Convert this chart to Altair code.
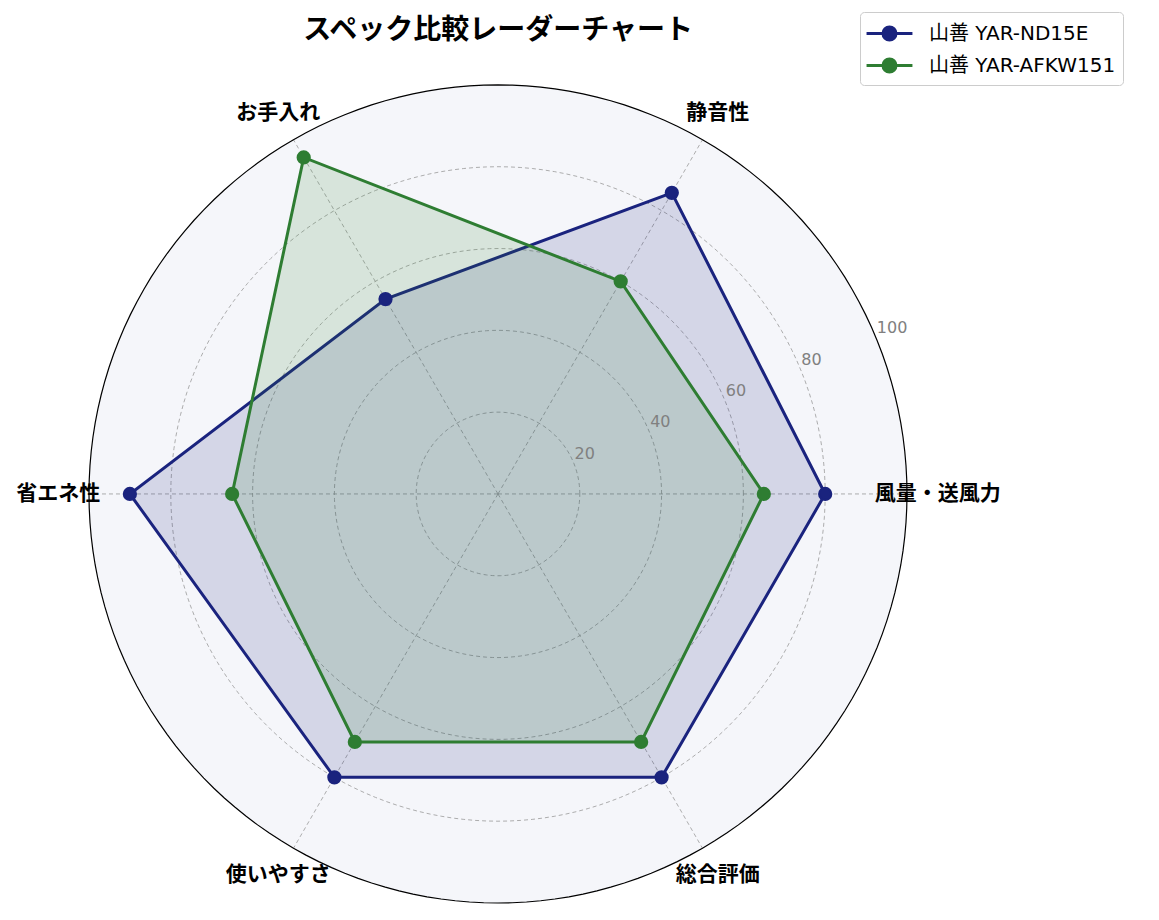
import altair as alt
import pandas as pd
import numpy as np

categories = ["風量・送風力", "静音性", "お手入れ", "省エネ性", "使いやすさ", "総合評価"]
series_names = ["山善 YAR-ND15E", "山善 YAR-AFKW151"]
series_values = [
    [80, 85, 55, 90, 80, 80],
    [65, 60, 95, 65, 70, 70],
]
colors = ["#1a237e", "#2e7d32"]
grid_levels = [20, 40, 60, 80, 100]
tick_labels = ["20", "40", "60", "80", "100"]
title_text = "スペック比較レーダーチャート"

FONT = "Noto Sans CJK JP"
LATIN = "DejaVu Sans, Noto Sans CJK JP"
W, H = 1143, 904
xdom = [-119.8, 159.66]
ydom = [-102.2, 118.8]

rows = []
for s, vals in zip(series_names, series_values):
    for i, (c, v) in enumerate(zip(categories, vals)):
        rows.append({"series": s, "cat": c, "idx": i, "value": v})
df = pd.DataFrame(rows)

cat_df = pd.DataFrame({"cat": categories, "idx": list(range(len(categories)))})

circ_rows = []
for lv in grid_levels:
    for a in range(0, 360, 2):
        circ_rows.append({"level": lv, "a": a})
circ_df = pd.DataFrame(circ_rows)

tick_df = pd.DataFrame({"level": grid_levels, "label": tick_labels})

xs = alt.Scale(domain=xdom, nice=False, zero=False)
ys = alt.Scale(domain=ydom, nice=False, zero=False)
X = lambda f: alt.X(f, type="quantitative", scale=xs, axis=None)
Y = lambda f: alt.Y(f, type="quantitative", scale=ys, axis=None)

cscale = alt.Scale(domain=series_names, range=colors)
sym = ("M-1.15,0L2.38,0"
       "M0.115,0A0.5,0.5,0,1,1,1.115,0A0.5,0.5,0,1,1,0.115,0Z")
leg = alt.Legend(
    title=None, orient="none", legendX=852, legendY=4,
    symbolType=sym, symbolSize=676, symbolStrokeWidth=3,
    labelFont=LATIN, labelFontSize=20, labelColor="#000", labelLimit=400,
    padding=7, strokeColor="#cccccc", cornerRadius=4, fillColor="white",
    rowPadding=5, labelOffset=33,
)

circ_base = alt.Chart(circ_df).transform_calculate(
    x="datum.level*cos(datum.a*PI/180)",
    y="datum.level*sin(datum.a*PI/180)",
)

bg = circ_base.transform_filter("datum.level == 100").mark_line(
    interpolate="linear-closed", fill="#f5f6fa", stroke="#f5f6fa", strokeWidth=0
).encode(x=X("x"), y=Y("y"), order="a:Q")

grid = circ_base.transform_filter("datum.level < 100").mark_line(
    interpolate="linear-closed", stroke="#999999", strokeWidth=0.8, strokeDash=[4, 3]
).encode(x=X("x"), y=Y("y"), order="a:Q", detail="level:N")

spokes = alt.Chart(cat_df).transform_calculate(
    x0="0", y0="0",
    x="100*cos(datum.idx*PI/3)",
    y="100*sin(datum.idx*PI/3)",
).mark_rule(stroke="#999999", strokeWidth=0.8, strokeDash=[4, 3]).encode(
    x=X("x0"), y=Y("y0"), x2="x:Q", y2="y:Q"
)

poly_base = alt.Chart(df).transform_calculate(
    x="datum.value*cos(datum.idx*PI/3)",
    y="datum.value*sin(datum.idx*PI/3)",
)

polys = poly_base.mark_line(
    interpolate="linear-closed", fillOpacity=0.15, strokeWidth=3
).encode(
    x=X("x"), y=Y("y"), order="idx:Q",
    stroke=alt.Stroke("series:N", scale=cscale, legend=leg),
    fill=alt.Fill("series:N", scale=cscale, legend=leg),
)

pts = poly_base.mark_point(filled=True, size=150, opacity=1).encode(
    x=X("x"), y=Y("y"),
    fill=alt.Fill("series:N", scale=cscale, legend=leg),
    stroke=alt.Stroke("series:N", scale=cscale, legend=leg),
)

outer = circ_base.transform_filter("datum.level == 100").mark_line(
    interpolate="linear-closed", stroke="black", strokeWidth=1.2
).encode(x=X("x"), y=Y("y"), order="a:Q")

ticks = alt.Chart(tick_df).transform_calculate(
    x="datum.level*cos(22.5*PI/180)",
    y="datum.level*sin(22.5*PI/180)",
).mark_text(
    align="left", baseline="bottom", font="DejaVu Sans", fontSize=16, color="#808080", dx=1, dy=-1
).encode(x=X("x"), y=Y("y"), text="label:N")

labels = alt.Chart(cat_df).transform_calculate(
    x="107.5*cos(datum.idx*PI/3)",
    y="107.5*sin(datum.idx*PI/3)",
).mark_text(
    align="center", baseline="middle", font=FONT, fontSize=21, fontWeight="bold", color="black"
).encode(x=X("x"), y=Y("y"), text="cat:N")

title = alt.Chart(pd.DataFrame({"t": [title_text]})).mark_text(
    align="center", baseline="middle", font=FONT, fontSize=28, fontWeight="bold", color="black"
).encode(x=alt.value(490), y=alt.value(23), text="t:N")

chart = alt.layer(bg, grid, spokes, polys, pts, outer, ticks, labels, title).properties(
    width=W, height=H, autosize=alt.AutoSizeParams(type="none"), padding=0
).configure_view(stroke=None)

chart.save("out.html", embed_options={"renderer": "svg", "actions": False})
